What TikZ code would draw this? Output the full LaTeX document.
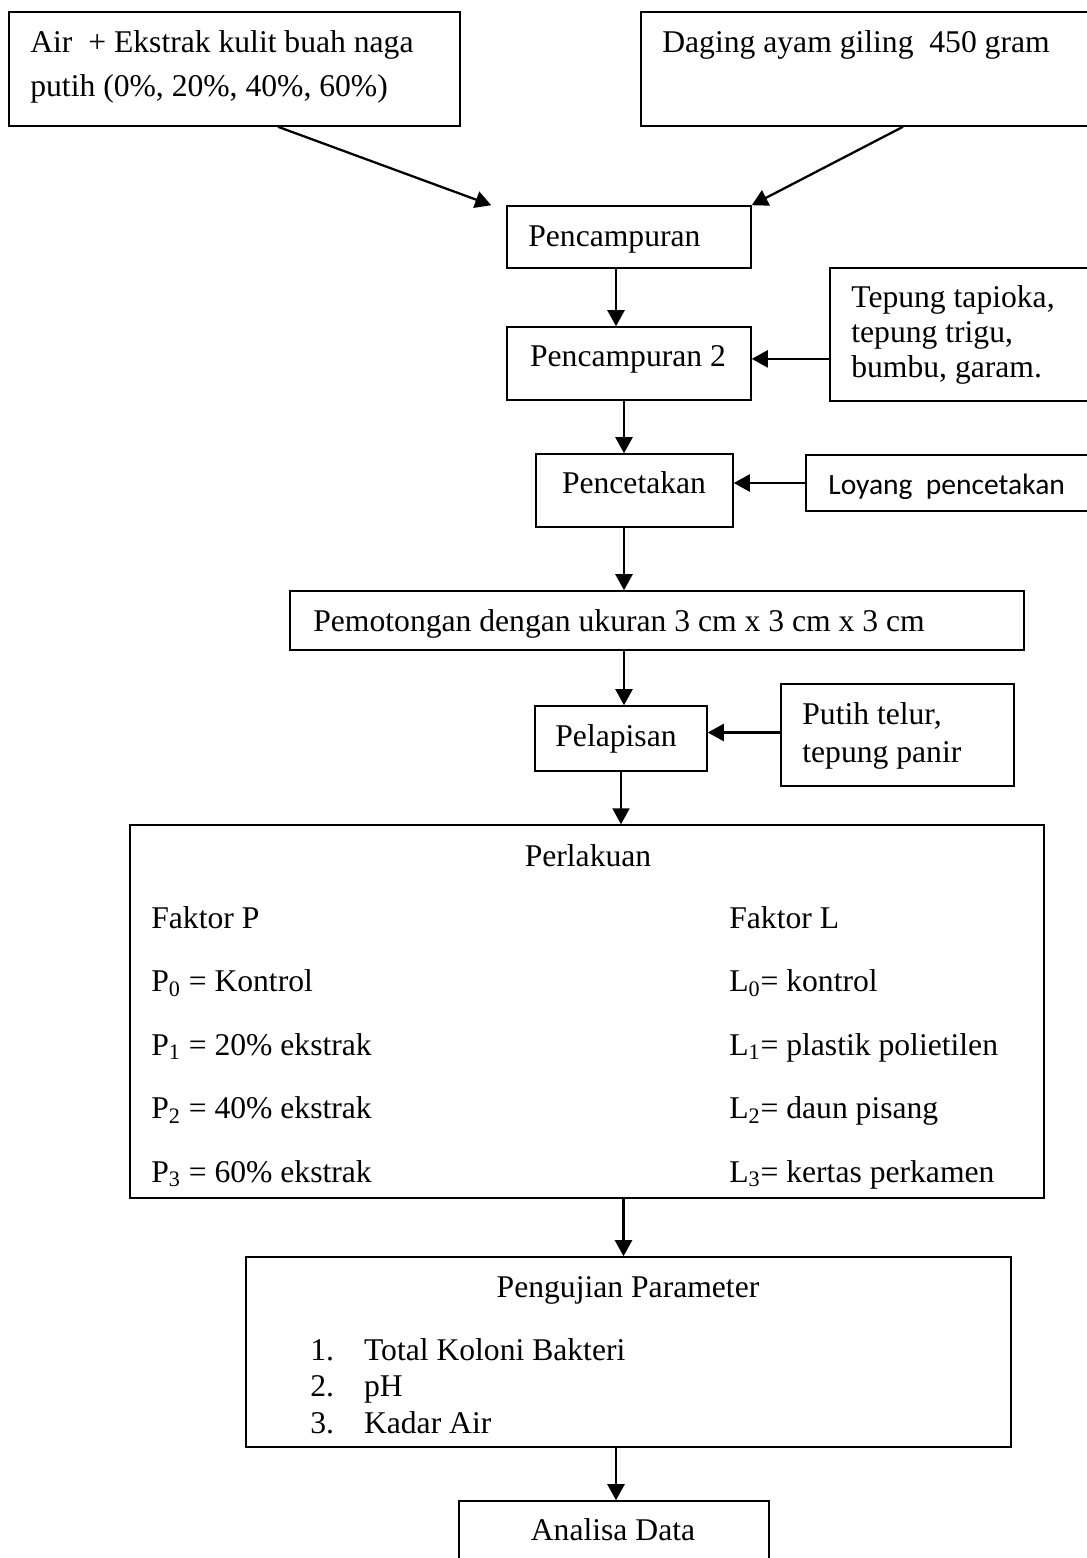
\documentclass[tikz,border=0pt]{standalone}
\usepackage{fontspec}
\setmainfont{Liberation Serif}
\newfontfamily\loyangfont{Carlito}
\usetikzlibrary{arrows.meta}
\tikzset{box/.style={draw, line width=0.9pt, inner sep=0pt}}
\tikzset{flow/.style={line width=1.3pt, -{Triangle[length=0.32cm,width=0.34cm]}}}
\tikzset{txt/.style={inner sep=0pt, anchor=base west, font=\fontsize{18}{21}\selectfont}}

\begin{document}
\begin{tikzpicture}[x=0.02cm, y=-0.02cm]
\useasboundingbox (0,0) rectangle (1086,1558);

% bahan awal
\node[box, minimum width=9.02cm, minimum height=2.28cm] (air) at (234.5,69) {};
\node[txt] (airtxt) at (30,53) {\begin{tabular}[t]{@{}l@{}}Air~ + Ekstrak kulit buah naga\\[4pt] putih (0\%, 20\%, 40\%, 60\%)\end{tabular}};
\node[box, minimum width=9.1cm, minimum height=2.28cm] (daging) at (868.5,69) {};
\node[txt] (dagtxt) at (662,53) {Daging ayam giling~ 450 gram};

% pencampuran
\node[box, minimum width=4.88cm, minimum height=1.24cm] (campur1) at (629,237) {};
\node[txt] (c1txt) at (528,246) {Pencampuran};
\node[box, minimum width=4.88cm, minimum height=1.46cm] (campur2) at (629,363.5) {};
\node[txt, anchor=base] (c2txt) at (628,366) {Pencampuran 2};
\node[box, minimum width=5.32cm, minimum height=2.66cm] (tepung) at (963,334.5) {};
\node[txt] (tepungtxt) at (851,307) {\begin{tabular}[t]{@{}l@{}}Tepung tapioka,\\[-1pt] tepung trigu,\\[-1pt] bumbu, garam.\end{tabular}};

% pencetakan
\node[box, minimum width=3.94cm, minimum height=1.46cm] (cetak) at (634.5,490.5) {};
\node[txt, anchor=base] (cetaktxt) at (634,493) {Pencetakan};
\node[box, minimum width=5.8cm, minimum height=1.12cm] (loyang) at (951,483) {};
\node[txt, font=\loyangfont\fontsize{16.8}{20}\selectfont] (loyangtxt) at (828,494) {Loyang~ pencetakan};

% pemotongan dan pelapisan
\node[box, minimum width=14.68cm, minimum height=1.18cm] (potong) at (657,620.5) {};
\node[txt] (potongtxt) at (313,631) {Pemotongan dengan ukuran 3 cm x 3 cm x 3 cm};
\node[box, minimum width=3.44cm, minimum height=1.3cm] (lapis) at (621,738.5) {};
\node[txt, anchor=base] (lapistxt) at (616,746) {Pelapisan};
\node[box, minimum width=4.66cm, minimum height=2.04cm] (putih) at (897.5,735) {};
\node[txt] (putihtxt) at (802,724) {\begin{tabular}[t]{@{}l@{}}Putih telur,\\[1pt] tepung panir\end{tabular}};

% perlakuan
\node[box, minimum width=18.28cm, minimum height=7.46cm] (perlakuan) at (587,1011.5) {};
\node[txt, anchor=base] (perlakuantxt) at (588,866) {Perlakuan};
\node[txt] (faktorp) at (151,928) {Faktor P};
\node[txt] (faktorl) at (729,928) {Faktor L};
\foreach \i/\ptxt/\ltxt in {0/{= Kontrol}/{= kontrol},
                            1/{= 20\% ekstrak}/{= plastik polietilen},
                            2/{= 40\% ekstrak}/{= daun pisang},
                            3/{= 60\% ekstrak}/{= kertas perkamen}}{
  \node[txt] (p\i) at (151,{991.5+63.5*\i}) {P\textsubscript{\i} \ptxt};
  \node[txt] (l\i) at (729,{991.5+63.5*\i}) {L\textsubscript{\i}\ltxt};
}

% pengujian dan analisa
\node[box, minimum width=15.3cm, minimum height=3.8cm] (uji) at (628.5,1352) {};
\node[txt, anchor=base] (ujitxt) at (628,1297) {Pengujian Parameter};
\node[txt] (ujilist) at (310,1360) {\begin{tabular}[t]{@{}l@{\hspace{0.6cm}}l@{}}1. & Total Koloni Bakteri\\ 2. & pH\\ 3. & Kadar Air\end{tabular}};
\node[box, minimum width=6.2cm, minimum height=1.98cm] (analisa) at (614,1550.5) {};
\node[txt, anchor=base] (analisatxt) at (613,1540) {Analisa Data};

% alur
\draw[flow] ([xshift=0.87cm]air.south) -- ([xshift=-0.3cm]campur1.north west);
\draw[flow] ([xshift=0.69cm]daging.south) -- (campur1.north east);
\draw[flow] ([xshift=-0.26cm]campur1.south) -- ([xshift=-0.26cm]campur2.north);
\draw[flow] (tepung.west |- c2txt) -- (campur2.east |- c2txt);
\draw[flow] ([xshift=-0.1cm]campur2.south) -- ([xshift=-0.1cm]campur2.south |- cetak.north);
\draw[flow] (loyang.west) -- (cetak.east |- loyang.west);
\draw[flow] ([xshift=-0.21cm]cetak.south) -- ([xshift=-0.21cm]cetak.south |- potong.north);
\draw[flow] ([xshift=0.06cm]lapis.north |- potong.south) -- ([xshift=0.06cm]lapis.north);
\draw[flow] ([yshift=0.12cm]putih.west |- lapis.east) -- ([yshift=0.12cm]lapis.east);
\draw[flow] (lapis.south) -- (lapis.south |- perlakuan.north);
\draw[flow] ([xshift=-0.1cm]uji.north |- perlakuan.south) -- ([xshift=-0.1cm]uji.north);
\draw[flow] ([xshift=0.04cm]analisa.north |- uji.south) -- ([xshift=0.04cm]analisa.north);
\end{tikzpicture}
\end{document}
